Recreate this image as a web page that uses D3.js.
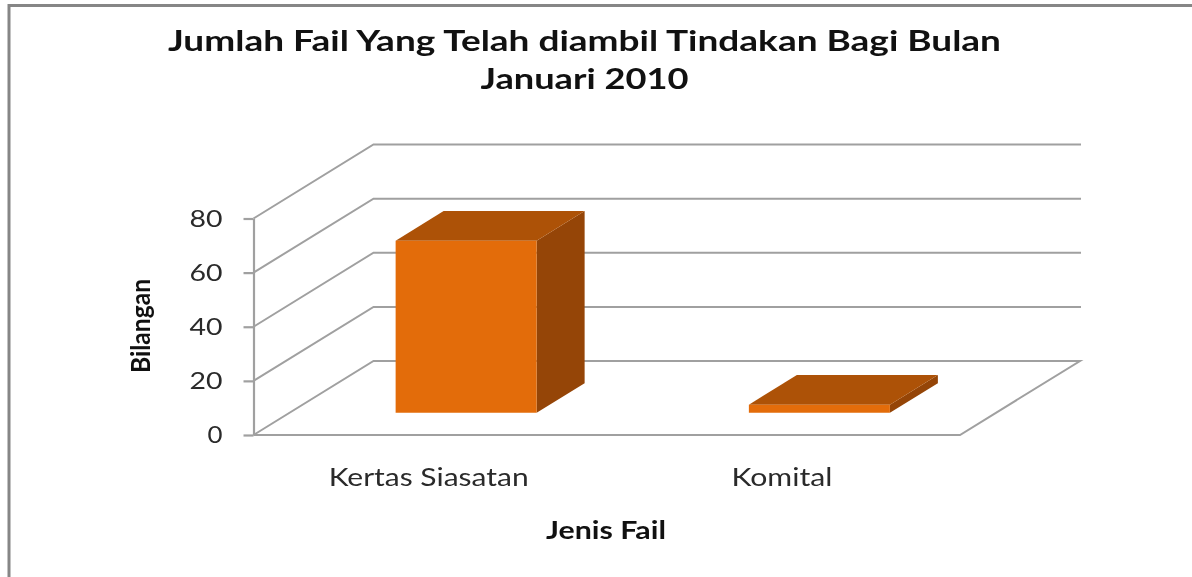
<!DOCTYPE html>
<html><head><meta charset="utf-8">
<script src="https://cdn.jsdelivr.net/npm/d3@7/dist/d3.min.js"></script>
<style>html,body{margin:0;padding:0;background:#fff;overflow:hidden}svg{display:block;filter:blur(0.45px)}text{font-family:Lato,"Noto Sans",sans-serif;fill:#111}</style>
</head><body><svg id="c" width="1192" height="577"></svg>
<script>
const categories = ["Kertas Siasatan", "Komital"];
const values = [63.6, 3];
const yTicks = [0, 20, 40, 60, 80];
const titleLines = ["Jumlah Fail Yang Telah diambil Tindakan Bagi Bulan", "Januari 2010"];
const yTitle = "Bilangan";
const xTitle = "Jenis Fail";

const colors = {front:"#E36C0A", top:"#AD5207", side:"#954507", grid:"#A0A0A0", frame:"#868686", label:"#2a2a2a"};
const svg = d3.select("#c");

// frame
svg.append("path").attr("d","M1192,5.5H9V577").attr("fill","none").attr("stroke",colors.frame).attr("stroke-width",3);

const x = d3.scaleBand().domain(categories).range([253.5,960]).paddingInner(0).paddingOuter(0);
const y = d3.scaleLinear().domain([0,80]).range([435,218.5]);
const dxS = d3.scaleLinear().domain([0,1]).range([0,120]);
const dyS = d3.scaleLinear().domain([0,1]).range([0,-74]);
const P = (px,py,d)=>[px+dxS(d),py+dyS(d)];
const poly = pts=>"M"+pts.map(p=>p.join(",")).join("L")+"Z";

// walls and gridlines
const g = svg.append("g").attr("fill","none").attr("stroke",colors.grid).attr("stroke-width",2);
const line = d3.line();
yTicks.forEach(t=>{
  if(t===0) return;
  g.append("path").attr("d",line([P(253.5,y(t),0),P(253.5,y(t),1),[1081,y(t)+dyS(1)]]));
});
g.append("path").attr("d",line([P(253.5,y(0),0),P(253.5,y(0),1),P(960,y(0),1),P(960,y(0),0),P(253.5,y(0),0)]));

// y axis
const axis = svg.append("g").attr("transform","translate(253.5,0)")
  .call(d3.axisLeft(y).tickValues(yTicks).tickSize(10).tickSizeOuter(0).tickPadding(21).tickFormat(d3.format("d")));
axis.selectAll("path,line").attr("stroke",colors.grid).attr("stroke-width",2.2);
axis.selectAll("text").attr("font-size",24).attr("font-family","Lato").style("fill",colors.label)
  .attr("textLength",d=>d===0?15:33).attr("lengthAdjust","spacingAndGlyphs");

// bars
const d0=0.3, d1=0.7, barW=141;
categories.forEach((c,i)=>{
  const cx = x(c)+x.bandwidth()/2;
  const base = y(0), topY = y(values[i]);
  const xl = cx-barW/2, xr = cx+barW/2;
  const G = svg.append("g");
  G.append("path").attr("fill",colors.side).attr("d",poly([P(xr,base,d0),P(xr,base,d1),P(xr,topY,d1),P(xr,topY,d0)]));
  G.append("path").attr("fill",colors.top).attr("d",poly([P(xl,topY,d0),P(xr,topY,d0),P(xr,topY,d1),P(xl,topY,d1)]));
  G.append("path").attr("fill",colors.front).attr("d",poly([P(xl,base,d0),P(xr,base,d0),P(xr,topY,d0),P(xl,topY,d0)]));
  svg.append("text").text(c).attr("x",cx-1.5).attr("y",485.5).attr("text-anchor","middle")
    .attr("font-size",24.5).style("fill",colors.label).attr("textLength",i===0?200:101).attr("lengthAdjust","spacingAndGlyphs");
});

// titles
const tl = [[584.5,51,833],[584.5,89,208]];
titleLines.forEach((t,i)=>{
  svg.append("text").text(t).attr("x",tl[i][0]).attr("y",tl[i][1]).attr("text-anchor","middle")
    .attr("font-size",28).attr("font-weight",700).attr("textLength",tl[i][2]).attr("lengthAdjust","spacingAndGlyphs");
});
svg.append("text").text(xTitle).attr("x",606).attr("y",539).attr("text-anchor","middle")
  .attr("font-size",24).attr("font-weight",700).attr("textLength",120).attr("lengthAdjust","spacingAndGlyphs");
svg.append("text").text(yTitle).attr("transform","translate(150,326) rotate(-90)").attr("text-anchor","middle")
  .attr("font-size",26).attr("font-weight",700).attr("textLength",94).attr("lengthAdjust","spacingAndGlyphs");
</script></body></html>
